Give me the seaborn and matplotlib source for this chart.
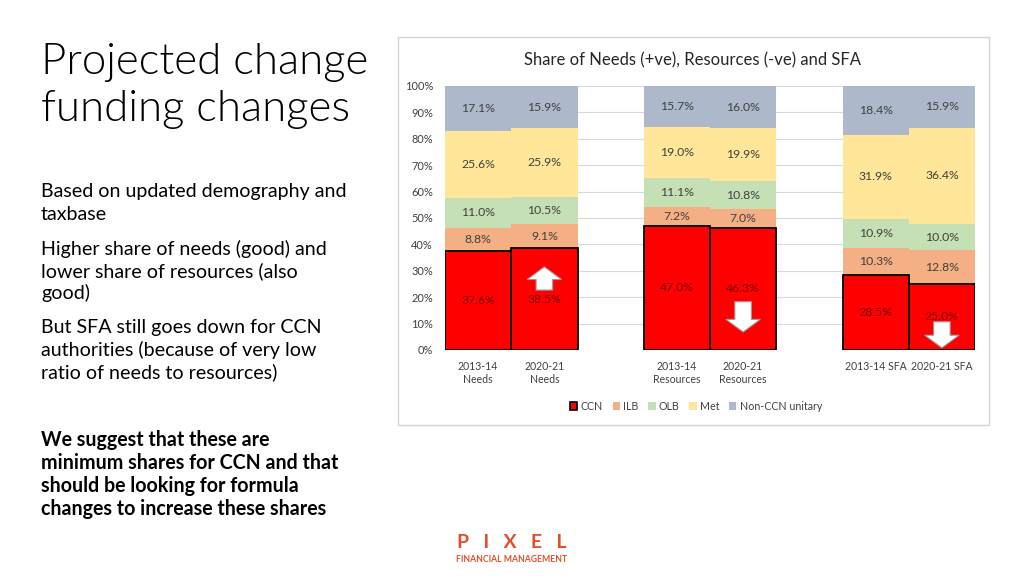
import numpy as np
import pandas as pd
import matplotlib
matplotlib.use("Agg")
import matplotlib.pyplot as plt
from matplotlib.patches import Rectangle, Patch, FancyArrow
import seaborn as sns

W, H = 1024, 576

BARS = ["2013-14\nNeeds", "2020-21\nNeeds", "2013-14\nResources",
        "2020-21\nResources", "2013-14 SFA", "2020-21 SFA"]
GROUPS = ["CCN", "ILB", "OLB", "Met", "Non-CCN unitary"]
CCN    = [37.6, 38.5, 47.0, 46.3, 28.5, 25.0]
ILB    = [8.8, 9.1, 7.2, 7.0, 10.3, 12.8]
OLB    = [11.0, 10.5, 11.1, 10.8, 10.9, 10.0]
MET    = [25.6, 25.9, 19.0, 19.9, 31.9, 36.4]
NONCCN = [17.1, 15.9, 15.7, 16.0, 18.4, 15.9]

COLORS = ["#FF0000", "#F4B084", "#C5E0B4", "#FFE699", "#ADB9CA"]
ORDER  = [BARS[0], BARS[1], " ", BARS[2], BARS[3], "  ", BARS[4], BARS[5]]

# (bar, start %, end %) of the white arrows drawn over the CCN bars
ARROWS = [(BARS[1], 22.7, 31.5), (BARS[3], 18.3, 6.8), (BARS[5], 10.7, 0.8)]

FONT = "Lato"


def px(x, y):
    return x / W, 1 - y / H


def draw_chart(fig):
    ax = fig.add_axes([445 / W, 1 - 350 / H, 530 / W, 264 / H])
    layers = [CCN, ILB, OLB, MET, NONCCN]
    cum = np.cumsum(np.array(layers), axis=0)

    # draw cumulative bars top layer first so lower layers overlap them
    for k in range(len(layers) - 1, -1, -1):
        df = pd.DataFrame({"bar": BARS, "top": np.minimum(cum[k], 100)})
        ccn = k == 0
        sns.barplot(data=df, x="bar", y="top", order=ORDER, color=COLORS[k],
                    saturation=1, width=1.0, errorbar=None, ax=ax,
                    edgecolor="black" if ccn else "none",
                    linewidth=1.3 if ccn else 0, zorder=2 + (len(layers) - k))

    for i, b in enumerate(BARS):
        pos = ORDER.index(b)
        bottom = 0
        for k, vals in enumerate(layers):
            v = vals[i]
            ax.text(pos, bottom + v / 2, f"{v:.1f}%", ha="center", va="center",
                    fontsize=8.8, color="#7A0000" if k == 0 else "#404040",
                    zorder=10)
            bottom += v

    for b, y0, y1 in ARROWS:
        pos = ORDER.index(b)
        ax.add_patch(FancyArrow(pos, y0, 0, y1 - y0, width=0.25,
                                head_width=0.52, head_length=4.8,
                                length_includes_head=True, fc="white",
                                ec="#9A9A9A", lw=0.8, zorder=12))

    ax.set_xlim(-0.5, 7.5)
    ax.set_ylim(0, 100)
    ax.set_yticks(range(0, 101, 10))
    ax.set_yticklabels([f"{v}%" for v in range(0, 101, 10)])
    ax.yaxis.grid(True, color="#D9D9D9", lw=0.8)
    ax.set_axisbelow(True)
    ax.tick_params(axis="both", length=0, colors="#404040")
    ax.tick_params(axis="x", pad=8, labelsize=7.6)
    ax.tick_params(axis="y", pad=8.6, labelsize=7.9)
    ax.set_xlabel("")
    ax.set_ylabel("")
    for s in ax.spines.values():
        s.set_visible(False)

    handles = [Patch(facecolor=c, edgecolor="black" if i == 0 else c,
                     lw=1.2 if i == 0 else 0) for i, c in enumerate(COLORS)]
    fig.legend(handles, GROUPS, loc="center", bbox_to_anchor=px(696, 406),
               ncol=5, frameon=False, handlelength=0.7, handleheight=0.7,
               columnspacing=0.9, handletextpad=0.3, fontsize=7.7,
               labelcolor="#404040")

    fig.text(*px(693, 60), "Share of Needs (+ve), Resources (-ve) and SFA",
             ha="center", va="center", fontsize=12, color="#262626")
    fig.patches.append(Rectangle(px(398, 425), 591 / W, 388 / H,
                                 transform=fig.transFigure, fill=False,
                                 ec="#D4D4D4", lw=1.0))


def draw_slide(fig):
    fig.text(*px(41, 74), "Projected change", fontsize=31.5, fontweight=300,
             va="baseline", color="black")
    fig.text(*px(41, 121), "funding changes", fontsize=31.5, fontweight=300,
             va="baseline", color="black")

    body = [("Based on updated demography and", 197), ("taxbase", 220),
            ("Higher share of needs (good) and", 255),
            ("lower share of resources (also", 277), ("good)", 299),
            ("But SFA still goes down for CCN", 333),
            ("authorities (because of very low", 356),
            ("ratio of needs to resources)", 378)]
    for s, y in body:
        fig.text(*px(41, y), s, fontsize=14.1, va="baseline", color="black")

    bold = [("We suggest that these are", 446),
            ("minimum shares for CCN and that", 469),
            ("should be looking for formula", 492),
            ("changes to increase these shares", 515)]
    for s, y in bold:
        fig.text(*px(41, y), s, fontsize=14.1, fontweight="bold",
                 va="baseline", color="black")

    fig.text(*px(512, 548), "P   I   X   E   L", ha="center", va="baseline",
             fontsize=14, fontweight="bold", color="#E2502B")
    fig.text(*px(512, 562), "FINANCIAL MANAGEMENT", ha="center",
             va="baseline", fontsize=6.2, fontweight="bold", color="#E2502B")


def main():
    sns.set_theme(style="white")
    plt.rcParams["font.family"] = [FONT, "DejaVu Sans"]
    fig = plt.figure(figsize=(W / 100, H / 100), dpi=100)
    fig.patch.set_facecolor("white")
    draw_chart(fig)
    draw_slide(fig)
    fig.savefig("out.png", dpi=100)
    plt.close(fig)


if __name__ == "__main__":
    main()
